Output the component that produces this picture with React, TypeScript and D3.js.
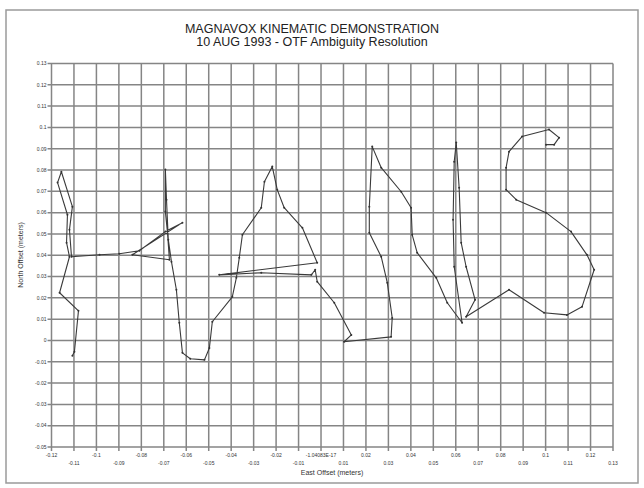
import React from "react";
import * as d3 from "d3";

const titleLines = ["MAGNAVOX KINEMATIC DEMONSTRATION", "10 AUG 1993 - OTF Ambiguity Resolution"];
const xTitle = "East Offset (meters)";
const yTitle = "North Offset (meters)";

const xTickValues = [-0.12, -0.11, -0.1, -0.09, -0.08, -0.07, -0.06, -0.05, -0.04, -0.03, -0.02, -0.01, 0, 0.01, 0.02, 0.03, 0.04, 0.05, 0.06, 0.07, 0.08, 0.09, 0.1, 0.11, 0.12, 0.13];
const xTickLabels = ["-0.12", "-0.11", "-0.1", "-0.09", "-0.08", "-0.07", "-0.06", "-0.05", "-0.04", "-0.03", "-0.02", "-0.01", "-1.04083E-17", "0.01", "0.02", "0.03", "0.04", "0.05", "0.06", "0.07", "0.08", "0.09", "0.1", "0.11", "0.12", "0.13"];
const yTickValues = [0.13, 0.12, 0.11, 0.1, 0.09, 0.08, 0.07, 0.06, 0.05, 0.04, 0.03, 0.02, 0.01, 0, -0.01, -0.02, -0.03, -0.04, -0.05];
const yTickLabels = ["0.13", "0.12", "0.11", "0.1", "0.09", "0.08", "0.07", "0.06", "0.05", "0.04", "0.03", "0.02", "0.01", "0", "-0.01", "-0.02", "-0.03", "-0.04", "-0.05"];

const eastOffset = [
  -0.1107, -0.1098, -0.108, -0.1164, -0.112, -0.1133, -0.1129, -0.1173, -0.1156, -0.1107, -0.112, -0.1111,
  -0.0986, -0.0898, -0.0809, -0.0693, -0.0617, -0.084, -0.0675,
  -0.0684, -0.0693, -0.0693, -0.0688, -0.068, -0.0666, -0.0644, -0.0631, -0.0617, -0.0582,
  -0.0519, -0.0497, -0.0484, -0.0395, -0.0377, -0.0364, -0.035, -0.0266, -0.0252, -0.0217, -0.0195, -0.0164, -0.0083, -0.0017,
  -0.0453, -0.0266, -0.0043, -0.0026, -0.0017, 0.0059, 0.0135, 0.0103,
  0.0312, 0.0317, 0.0295, 0.0268, 0.0215, 0.0215, 0.0228, 0.0268, 0.0357, 0.0401, 0.0406, 0.0428, 0.0513, 0.0562, 0.0628,
  0.0593, 0.0588, 0.0593, 0.0602, 0.0615, 0.0624, 0.0646, 0.0686, 0.0646,
  0.0837, 0.0993, 0.1095, 0.1162, 0.1216, 0.1184, 0.1113, 0.1002, 0.0869, 0.0824, 0.0824, 0.0837, 0.0895, 0.1015, 0.106, 0.1038, 0.1002,
];
const northOffset = [
  -0.0072, -0.0053, 0.0139, 0.0224, 0.0393, 0.0459, 0.059, 0.0741, 0.0792, 0.0628, 0.052, 0.0393,
  0.0402, 0.0407, 0.0421, 0.0511, 0.0553, 0.0402, 0.0379,
  0.0511, 0.0605, 0.0802, 0.0661, 0.0473, 0.037, 0.0238, 0.0083, -0.0058, -0.0086,
  -0.0091, -0.0035, 0.0088, 0.0205, 0.0294, 0.0388, 0.0496, 0.0623, 0.0745, 0.0816, 0.0708, 0.0623, 0.0529, 0.0365,
  0.0308, 0.0318, 0.0308, 0.0332, 0.0276, 0.0177, 0.0026, -0.0006,
  0.0017, 0.0106, 0.0271, 0.0393, 0.0506, 0.0628, 0.091, 0.0811, 0.0698, 0.0623, 0.0496, 0.0412, 0.0294, 0.0177, 0.0083,
  0.0346, 0.0567, 0.0839, 0.0929, 0.0717, 0.0459, 0.0346, 0.0191, 0.0111,
  0.0238, 0.013, 0.012, 0.0158, 0.0332, 0.0402, 0.0511, 0.06, 0.0661, 0.0708, 0.0811, 0.0886, 0.0957, 0.099, 0.0952, 0.0919, 0.0919,
];

const W = 644;
const H = 488;
const FONT = "'Liberation Sans', Arial, Helvetica, sans-serif";

export default function App() {
  const x = d3.scaleLinear().domain([-0.12, 0.13]).range([51.5, 613]);
  const y = d3.scaleLinear().domain([-0.05, 0.13]).range([447, 63.5]);
  const pts: [number, number][] = eastOffset.map((e, i) => [e, northOffset[i]]);
  const line = d3
    .line<[number, number]>()
    .x((d) => x(d[0]))
    .y((d) => y(d[1]));

  const gridColor = "#858585";

  return (
    <svg
      width={W}
      height={H}
      viewBox={`0 0 ${W} ${H}`}
      style={{ position: "absolute", left: 0, top: 0, background: "#fff" }}
    >
      <rect x={0} y={0} width={W} height={H} fill="#fff" />
      <rect x={6} y={10} width={632} height={473} fill="none" stroke="#9a9a9a" strokeWidth={1.5} />

      {titleLines.map((t, i) => (
        <text
          key={i}
          x={312}
          y={33 + i * 12.5}
          textAnchor="middle"
          fontFamily={FONT}
          fontSize={12.5}
          fill="#222"
        >
          {t}
        </text>
      ))}

      {/* grid */}
      <g stroke={gridColor} strokeWidth={1.5}>
        {xTickValues.map((v, i) => (
          <line key={"xg" + i} x1={x(v)} x2={x(v)} y1={y(0.13)} y2={y(-0.05) + 4} />
        ))}
        {yTickValues.map((v, i) => (
          <line key={"yg" + i} x1={x(-0.12) - 4} x2={x(0.13)} y1={y(v)} y2={y(v)} />
        ))}
      </g>

      {/* y tick labels */}
      <g fontFamily={FONT} fontSize={5} fill="#333" textAnchor="end">
        {yTickValues.map((v, i) => (
          <text key={"yl" + i} x={x(-0.12) - 5} y={y(v) + 1.8}>
            {yTickLabels[i]}
          </text>
        ))}
      </g>

      {/* x tick labels */}
      <g fontFamily={FONT} fontSize={5} fill="#333" textAnchor="middle">
        {xTickValues.map((v, i) => (
          <text key={"xl" + i} x={x(v)} y={i % 2 === 0 ? 457 : 465}>
            {xTickLabels[i]}
          </text>
        ))}
      </g>

      <text x={332} y={475} textAnchor="middle" fontFamily={FONT} fontSize={7} fill="#333">
        {xTitle}
      </text>
      <text
        transform={`translate(23, 255) rotate(-90)`}
        textAnchor="middle"
        fontFamily={FONT}
        fontSize={7}
        fill="#333"
      >
        {yTitle}
      </text>

      {/* trajectory */}
      <path d={line(pts) || ""} fill="none" stroke="#3a3a3a" strokeWidth={1.1} strokeLinejoin="round" />
      <g fill="#333">
        {pts.map((d, i) => (
          <circle key={"p" + i} cx={x(d[0])} cy={y(d[1])} r={1} />
        ))}
      </g>
    </svg>
  );
}
